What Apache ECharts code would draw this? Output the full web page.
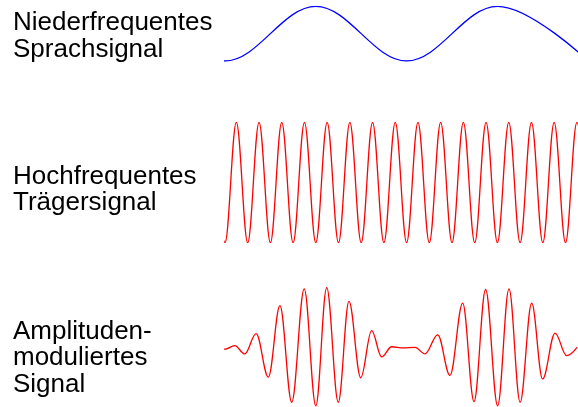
<!DOCTYPE html>
<html>
<head>
<meta charset="utf-8">
<script src="https://cdn.jsdelivr.net/npm/echarts@6/dist/echarts.min.js"></script>
<style>
html,body{margin:0;padding:0;background:#fff;}
#chart{width:578px;height:407px;}
</style>
</head>
<body>
<div id="chart"></div>
<script>
// Labels
const labels = ['Niederfrequentes\nSprachsignal', 'Hochfrequentes\nTrägersignal', 'Amplituden-\nmoduliertes\nSignal'];

// Time axis in carrier periods
const xMin = 0;
const xMax = 15.55;

// Low-frequency speech signal: extremes (time, value); first/last lie just outside the visible range
const speechT = [-4, 0, 4, 8, 12, 16];
const speechV = [1, -1, 1, -1, 1, -1];

// High-frequency carrier: extremes (time, value)
const carrierT = [-0.5, 0, 0.5, 1, 1.5, 2, 2.5, 3, 3.5, 4, 4.5, 5, 5.5, 6, 6.5, 7, 7.5,
                  8, 8.5, 9, 9.5, 10, 10.5, 11, 11.5, 12, 12.5, 13, 13.5, 14, 14.5, 15, 15.5, 16];
const carrierV = [1, -1, 1, -1, 1, -1, 1, -1, 1, -1, 1, -1, 1, -1, 1, -1, 1,
                  -1, 1, -1, 1, -1, 1, -1, 1, -1, 1, -1, 1, -1, 1, -1, 1, -1];

// Amplitude-modulated signal: extremes (time, value)
const amT = [-0.45, 0, 0.43, 0.87, 1.37, 1.91, 2.42, 2.94, 3.49, 4.0, 4.48, 4.99, 5.46, 5.98, 6.46, 6.90, 7.34,
             7.85, 8.37, 8.81, 9.37, 9.91, 10.47, 10.97, 11.48, 12.01, 12.51, 13.0, 13.51, 13.99, 14.54, 15.05, 15.51];
const amV = [0.03, -0.03, 0.03, -0.11, 0.23, -0.50, 0.70, -0.92, 0.98, -0.98, 1.0, -0.92, 0.77, -0.51, 0.28, -0.16, 0.01,
             -0.01, 0.00, -0.11, 0.21, -0.47, 0.74, -0.91, 0.97, -0.98, 0.98, -0.92, 0.74, -0.53, 0.24, -0.14, 0.0];

const zip = (a, b) => a.map((v, i) => [v, b[i]]);

const chart = echarts.init(document.getElementById('chart'), null, {renderer: 'canvas'});

const grids = [
  {left: 225, right: 0, top: 6.3, height: 54.7},
  {left: 225, right: 0, top: 122.3, height: 120.4},
  {left: 225, right: 0, top: 287.7, height: 119.6}
];

const xAxes = grids.map((g, i) => ({type: 'value', gridIndex: i, min: xMin, max: xMax, show: false}));
const yAxes = grids.map((g, i) => ({type: 'value', gridIndex: i, min: -1, max: 1, show: false}));

const lineCommon = {
  type: 'line', showSymbol: false, symbol: 'none', smooth: 0.363, smoothMonotone: 'x',
  clip: true, silent: true
};

const font = '26px "Liberation Sans", Arial, sans-serif';
const labelTops = [9.5, 163, 318];

chart.setOption({
  animation: false,
  backgroundColor: '#ffffff',
  grid: grids,
  xAxis: xAxes,
  yAxis: yAxes,
  graphic: labels.map((t, i) => ({
    type: 'text', left: 13, top: labelTops[i],
    style: {text: t, font: font, fill: '#000000', lineHeight: 26.8}
  })),
  series: [
    Object.assign({}, lineCommon, {xAxisIndex: 0, yAxisIndex: 0, data: zip(speechT, speechV),
      lineStyle: {color: '#0000ff', width: 1.3}}),
    Object.assign({}, lineCommon, {xAxisIndex: 1, yAxisIndex: 1, data: zip(carrierT, carrierV),
      lineStyle: {color: '#ff0000', width: 1.3}}),
    Object.assign({}, lineCommon, {xAxisIndex: 2, yAxisIndex: 2, data: zip(amT, amV),
      lineStyle: {color: '#ff0000', width: 1.3}})
  ]
});
</script>
</body>
</html>
